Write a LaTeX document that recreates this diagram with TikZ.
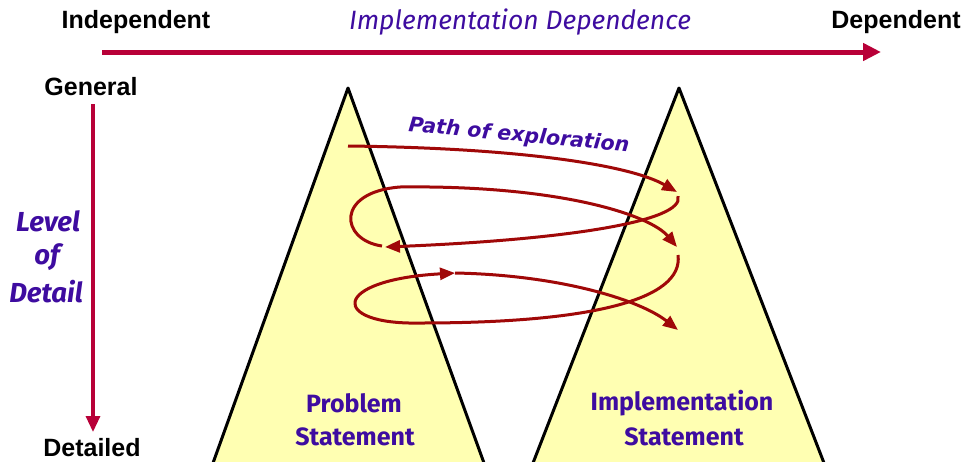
\documentclass[tikz,border=0pt]{standalone}
\usepackage{fontspec}
\setmainfont{Liberation Sans}
\newfontfamily\casualfont{Fira Sans}
\newfontfamily\pathfont{DejaVu Sans}
\usetikzlibrary{arrows.meta}
\definecolor{axisred}{RGB}{184,0,56}
\definecolor{spiralred}{RGB}{160,8,8}
\definecolor{labpurple}{RGB}{62,12,160}
\definecolor{triyellow}{RGB}{255,255,178}
\tikzset{
  axislabel/.style={font=\fontsize{25}{28}\selectfont\bfseries, inner sep=0pt},
  titlelabel/.style={font=\casualfont\itshape\fontsize{26.5}{28}\selectfont, text=labpurple, inner sep=0pt},
  sidelabel/.style={font=\casualfont\bfseries\itshape\fontsize{27.5}{30}\selectfont, text=labpurple, inner sep=0pt},
  trilabel/.style={font=\casualfont\bfseries\fontsize{25}{28}\selectfont, text=labpurple, inner sep=0pt},
  pathlabel/.style={font=\pathfont\bfseries\itshape\fontsize{20.5}{22}\selectfont, text=labpurple, inner sep=0pt},
  axisarrow/.style={draw=axisred, line width=5pt, -{Triangle[length=18pt,width=17pt]}},
  vaxisarrow/.style={draw=axisred, line width=3.2pt, -{Triangle[length=16pt,width=14pt]}},
  spiral/.style={draw=spiralred, line width=3pt, -{Triangle[length=15pt,width=12pt]}},
  tri/.style={fill=triyellow},
  triedge/.style={draw=black, line width=3pt, line join=round},
}
\begin{document}
\begin{tikzpicture}[x=1pt,y=-1pt]
\useasboundingbox (0,0) rectangle (971,461);
\fill[white] (0,0) rectangle (971,461);

% triangles
\coordinate (lapex) at (348,88);
\coordinate (lbl) at (213,463);
\coordinate (lbr) at (484,463);
\coordinate (rapex) at (679,88);
\coordinate (rbl) at (533,463);
\coordinate (rbr) at (824,463);
\fill[tri] (lbl) -- (lapex) -- (lbr) -- cycle;
\fill[tri] (rbl) -- (rapex) -- (rbr) -- cycle;
\draw[triedge] (lbl) -- (lapex) -- (lbr);
\draw[triedge] (rbl) -- (rapex) -- (rbr);

% axis labels
\node[axislabel] (indep) at (136,22) {Independent};
\node[titlelabel] (impdep) at (520,22) {Implementation Dependence};
\node[axislabel] (dep) at (896,22) {Dependent};
\node[axislabel] (general) at (91,87) {General};
\node[axislabel, anchor=base] (detailed) at (92,456) {Detailed};

\coordinate (hstart) at (102,52);
\coordinate (hend) at (881,52);
\draw[axisarrow] (hstart) -- (hend);
\coordinate (vstart) at (93,104);
\coordinate (vend) at (93,432);
\draw[vaxisarrow] (vstart) -- (vend);

\node[sidelabel] (lev) at (48,221) {Level};
\node[sidelabel] (of) at (47,257) {of};
\node[sidelabel] (det) at (46,292) {Detail};

% triangle texts
\node[trilabel] (prob1) at (354,403) {Problem};
\node[trilabel] (prob2) at (355,437) {Statement};
\node[trilabel] (impl1) at (682,403) {Implementation};
\node[trilabel] (impl2) at (684,437) {Statement};

% path label
\node[pathlabel, rotate=-5.5] (pathlab) at (519,136) {Path of exploration};

% spiral
\coordinate (s0) at (348,146);
\coordinate (s1) at (677,192);
\coordinate (s2a) at (678,196);
\coordinate (s2) at (385,247);
\coordinate (s3a) at (382,246);
\coordinate (s3m) at (400,187);
\coordinate (s3) at (677,247);
\coordinate (s4a) at (678,255);
\coordinate (s4m) at (420,323);
\coordinate (s4) at (455,273);
\coordinate (s5) at (678,330);
\draw[spiral] (s0) .. controls (520,148) and (630,165) .. (s1);
\draw[spiral] (s2a) .. controls (686,222) and (560,240) .. (s2);
\draw[spiral] (s3a) .. controls (340,240) and (335,192) .. (s3m) .. controls (560,185) and (650,215) .. (s3);
\draw[spiral] (s4a) .. controls (684,300) and (590,323) .. (s4m) .. controls (330,325) and (330,280) .. (s4);
\draw[spiral] (s4) .. controls (560,275) and (640,300) .. (s5);
\end{tikzpicture}
\end{document}
